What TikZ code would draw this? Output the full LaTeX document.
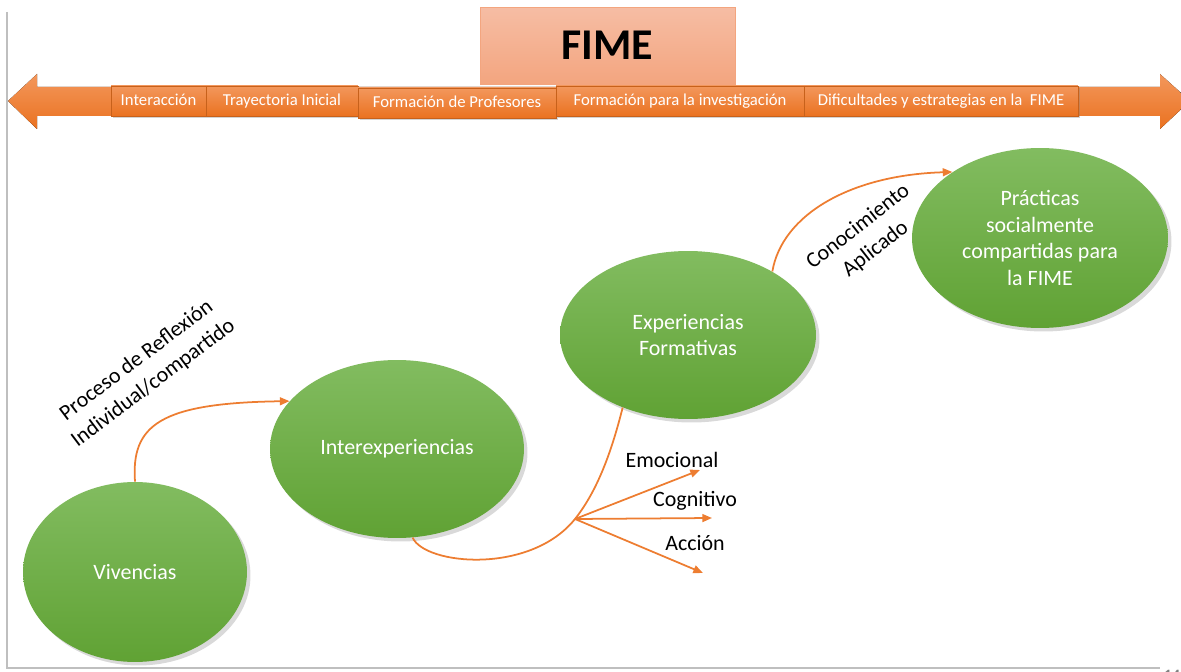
\documentclass[tikz,border=0pt]{standalone}
\usepackage{fontspec}
\setmainfont{Carlito}
\usetikzlibrary{shapes.geometric,shadows,arrows.meta}
\definecolor{lineorange}{HTML}{ED7D31}
\definecolor{tabtop}{HTML}{F3975C}
\definecolor{tabbot}{HTML}{EA7220}
\definecolor{fimetop}{HTML}{F6BDA4}
\definecolor{fimebot}{HTML}{F3A57F}
\definecolor{greentop}{HTML}{82BC60}
\definecolor{greenbot}{HTML}{60A234}
\tikzset{
	tab/.style={rectangle, top color=tabtop, bottom color=tabbot, draw=tabbot!85!black, line width=0.3pt, text=white, font=\fontsize{9.5}{11}\selectfont, minimum height=0.6cm, inner sep=0pt, text height=6.6pt, text depth=1.6pt, drop shadow={opacity=0.35, shadow xshift=1pt, shadow yshift=-1.2pt}},
	bubble/.style={ellipse, top color=greentop, bottom color=greenbot, text=white, align=center, font=\fontsize{12.5}{15}\selectfont, inner sep=0pt, drop shadow={opacity=0.3, shadow xshift=2pt, shadow yshift=-2pt}},
	link/.style={draw=lineorange, line width=1pt, >={Triangle[length=5.5pt,width=4.5pt]}},
	tag/.style={font=\fontsize{12.5}{16}\selectfont, align=center}
}
\begin{document}
\begin{tikzpicture}[x=0.02cm, y=-0.02cm]
	\useasboundingbox (0,0) rectangle (1181,672);
	\draw[black!25, line width=0.6pt] (7,12) -- (7,668) -- (1160,668);
	\node[gray, font=\fontsize{9}{10}\selectfont\bfseries, anchor=north] (page) at (1172,664) {14};
	\node (fime) at (607.5,45.5) [rectangle, top color=fimetop, bottom color=fimebot, draw=fimebot, line width=0.4pt, minimum width=5.1cm, minimum height=1.54cm, font=\fontsize{25}{30}\selectfont\bfseries] {FIME};
	\fill[top color=tabtop, bottom color=tabbot] (8,101) -- (37,74) -- (37,87) -- (1160,87) -- (1160,74) -- (1190,101) -- (1160,129) -- (1160,116) -- (37,116) -- (37,129) -- cycle;
		\node[tab, minimum width=1.9cm] (t1) at (158.5,101) {Interacción};
		\node[tab, minimum width=3.04cm] (t2) at (282,101) {Trayectoria Inicial};
		\node[tab, minimum width=3.96cm] (t3) at (457,103) {Formación de Profesores};
		\node[tab, minimum width=4.96cm] (t4) at (680,101) {Formación para la investigación};
		\node[tab, minimum width=5.48cm] (t5) at (941,101) {Dificultades y estrategias en la\ \ FIME};
	\node[bubble, minimum width=4.48cm, minimum height=3.6cm] (viv) at (135,572) {Vivencias};
	\node[bubble, minimum width=5.08cm, minimum height=3.56cm] (inter) at (397,449) {Interexperiencias};
	\node[bubble, minimum width=5.12cm, minimum height=3.36cm] (exper) at (688,335) {Experiencias\\Formativas};
	\node[bubble, minimum width=5.12cm, minimum height=3.6cm] (pract) at (1040,238) {Prácticas\\socialmente\\compartidas para\\la FIME};
	\node[tag, rotate=37] (reflex) at (145,372) {Proceso de Reflexión\\Individual/compartido};
	\node[tag, rotate=38] (conoc) at (867,238) {Conocimiento\\Aplicado};
	\node[tag] (emo) at (672,460) {Emocional};
	\node[tag] (cog) at (695,501) {Cognitivo};
	\node[tag] (acc) at (695,543) {Acción};
	\coordinate (hub) at (575,519);
	\coordinate (emoend) at (700,470);
	\coordinate (cogend) at (712,518);
	\coordinate (accend) at (703,573);
	\draw[link, ->] (viv.north) .. controls (131,425) and (160,403) .. (inter.156);
	\draw[link] (inter.280) .. controls (425,565) and (530,575) .. (hub) .. controls (598,490) and (612,450) .. (exper.228);
	\draw[link, ->] (hub) -- (emoend);
	\draw[link, ->] (hub) -- (cogend);
	\draw[link, ->] (hub) -- (accend);
	\draw[link, ->] (exper.37) .. controls (782,215) and (850,175) .. (pract.143);
\end{tikzpicture}
\end{document}
